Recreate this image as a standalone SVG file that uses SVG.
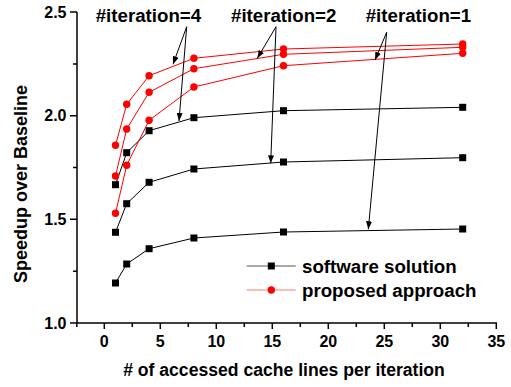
<svg xmlns="http://www.w3.org/2000/svg" width="511" height="387" viewBox="0 0 511 387">
<style>
text{font-family:"Liberation Sans",Arial,sans-serif;font-weight:bold;fill:#000}
.tick{font-size:16px}
.big{font-size:18.7px}
.ttl{font-size:17.6px}
.axis{stroke:#000;stroke-width:1.5;fill:none}
.sw{stroke:#000;stroke-width:1;fill:none}
.pr{stroke:#f00;stroke-width:1;fill:none}
.sq{fill:#000}
.ci{fill:#f00}
.ar{stroke:#000;stroke-width:1;fill:none;marker-end:url(#ah)}
</style>
<defs>
<marker id="ah" markerUnits="userSpaceOnUse" markerWidth="9" markerHeight="6" refX="8" refY="3" orient="auto">
<path d="M0,0 L8,3 L0,6 z" fill="#000"/>
</marker>
<rect id="s" x="-3.5" y="-3.5" width="7" height="7"/>
<circle id="c" r="3.7"/>
</defs>
<rect width="511" height="387" fill="#fff"/>
<g id="axes">
<path class="axis" d="M77,12 V323 H497"/>
<path class="axis" d="M70,12 H77 M70,115.7 H77 M70,219.3 H77 M70,323 H77 M73,63.9 H77 M73,167.5 H77 M73,271.2 H77"/>
<path class="axis" d="M104.3,323 v6 M160.3,323 v6 M216.3,323 v6 M272.3,323 v6 M328.3,323 v6 M384.3,323 v6 M440.3,323 v6 M496.3,323 v6 M76.8,323 v4 M132.3,323 v4 M188.3,323 v4 M244.3,323 v4 M300.3,323 v4 M356.3,323 v4 M412.3,323 v4 M468.3,323 v4"/>
<g class="tick" text-anchor="end">
<text x="66.5" y="17.5">2.5</text>
<text x="66.5" y="121">2.0</text>
<text x="66.5" y="225">1.5</text>
<text x="66.5" y="328.5">1.0</text>
</g>
<g class="tick" text-anchor="middle">
<text x="104.3" y="347">0</text>
<text x="160.3" y="347">5</text>
<text x="216.3" y="347">10</text>
<text x="272.3" y="347">15</text>
<text x="328.3" y="347">20</text>
<text x="384.3" y="347">25</text>
<text x="440.3" y="347">30</text>
<text x="496.3" y="347">35</text>
</g>
<text class="ttl" x="284" y="376" text-anchor="middle"># of accessed cache lines per iteration</text>
<text class="big" transform="translate(27,184) rotate(-90)" text-anchor="middle" style="font-size:18px">Speedup over Baseline</text>
</g>
<g id="software">
<polyline class="sw" points="115.5,184.7 126.7,152.7 149.1,130.7 193.9,117.7 283.5,110.7 462.7,107.3"/>
<polyline class="sw" points="115.5,232.3 126.7,203.7 149.1,182.3 193.9,169 283.5,162 462.7,157.7"/>
<polyline class="sw" points="115.5,283 126.7,264 149.1,248.7 193.9,238 283.5,232 462.7,229"/>
<g class="sq">
<use href="#s" x="115.5" y="184.7"/><use href="#s" x="126.7" y="152.7"/><use href="#s" x="149.1" y="130.7"/><use href="#s" x="193.9" y="117.7"/><use href="#s" x="283.5" y="110.7"/><use href="#s" x="462.7" y="107.3"/>
<use href="#s" x="115.5" y="232.3"/><use href="#s" x="126.7" y="203.7"/><use href="#s" x="149.1" y="182.3"/><use href="#s" x="193.9" y="169"/><use href="#s" x="283.5" y="162"/><use href="#s" x="462.7" y="157.7"/>
<use href="#s" x="115.5" y="283"/><use href="#s" x="126.7" y="264"/><use href="#s" x="149.1" y="248.7"/><use href="#s" x="193.9" y="238"/><use href="#s" x="283.5" y="232"/><use href="#s" x="462.7" y="229"/>
</g>
</g>
<g id="proposed">
<polyline class="pr" points="115.5,145.3 126.7,104.3 149.1,75.7 193.9,58.3 283.5,49 462.7,44"/>
<polyline class="pr" points="115.5,176 126.7,129 149.1,92.3 193.9,68.7 283.5,54.3 462.7,47.3"/>
<polyline class="pr" points="115.5,213.3 126.7,165.3 149.1,120.3 193.9,87 283.5,65.7 462.7,53.3"/>
<g class="ci">
<use href="#c" x="115.5" y="145.3"/><use href="#c" x="126.7" y="104.3"/><use href="#c" x="149.1" y="75.7"/><use href="#c" x="193.9" y="58.3"/><use href="#c" x="283.5" y="49"/><use href="#c" x="462.7" y="44"/>
<use href="#c" x="115.5" y="176"/><use href="#c" x="126.7" y="129"/><use href="#c" x="149.1" y="92.3"/><use href="#c" x="193.9" y="68.7"/><use href="#c" x="283.5" y="54.3"/><use href="#c" x="462.7" y="47.3"/>
<use href="#c" x="115.5" y="213.3"/><use href="#c" x="126.7" y="165.3"/><use href="#c" x="149.1" y="120.3"/><use href="#c" x="193.9" y="87"/><use href="#c" x="283.5" y="65.7"/><use href="#c" x="462.7" y="53.3"/>
</g>
</g>
<g id="labels" class="big">
<text x="95.7" y="22">#iteration=4</text>
<text x="231" y="22">#iteration=2</text>
<text x="365.7" y="22">#iteration=1</text>
</g>
<g id="connectors">
<line class="ar" x1="186.7" y1="26.7" x2="173" y2="64.3"/>
<line class="ar" x1="186.7" y1="26.7" x2="179" y2="121"/>
<line class="ar" x1="276" y1="26.7" x2="257.3" y2="58.3"/>
<line class="ar" x1="276" y1="26.7" x2="270.7" y2="163.3"/>
<line class="ar" x1="386.7" y1="32.3" x2="375" y2="60"/>
<line class="ar" x1="386.7" y1="32.3" x2="368.3" y2="229.3"/>
</g>
<g id="legend">
<line x1="246.7" y1="266" x2="295.7" y2="266" stroke="#555" stroke-width="1.2"/>
<use href="#s" x="271.3" y="266" class="sq"/>
<text class="big" x="302" y="272.5">software solution</text>
<line x1="246.7" y1="290" x2="295.7" y2="290" stroke="#f77" stroke-width="1.2"/>
<use href="#c" x="271.3" y="290" class="ci"/>
<text class="big" x="302" y="296.5">proposed approach</text>
</g>
</svg>
